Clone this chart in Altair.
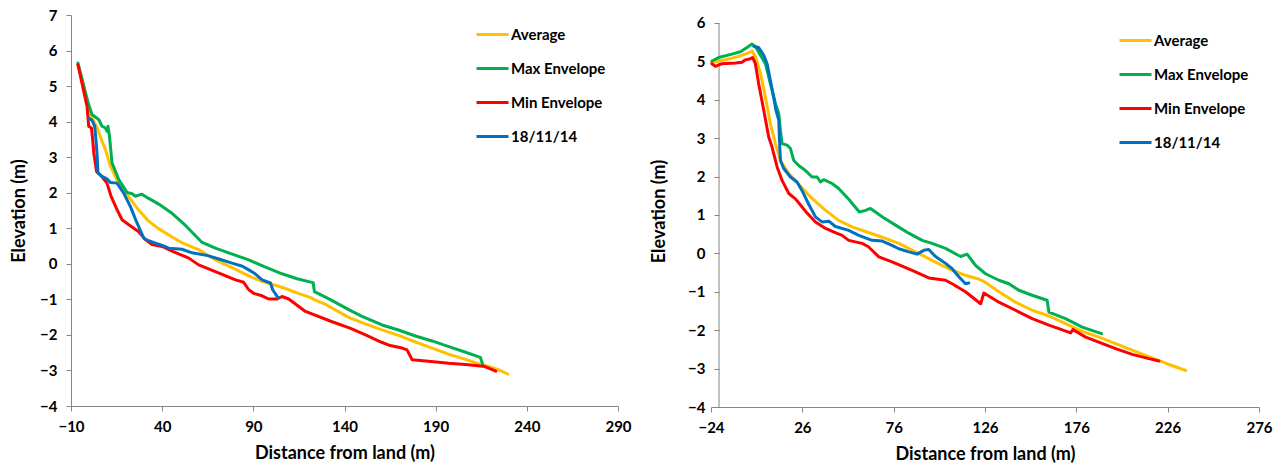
import altair as alt
import pandas as pd

SERIES = ["Average", "Max Envelope", "Min Envelope", "18/11/14"]
COLORS = ["#FFC000", "#00B050", "#FF0000", "#0070C0"]

# ---------------- Left profile ----------------
L_X_TICKS = [-10, 40, 90, 140, 190, 240, 290]
L_Y_TICKS = [-4, -3, -2, -1, 0, 1, 2, 3, 4, 5, 6, 7]

L_AVG_X = [-6.2, -3.0, -1.0, 0.5, 4.0, 7.0, 9.0, 11.6, 16.0, 21.5, 27.0, 32.6, 38.0, 45.0, 51.0, 60.0, 69.0,
           78.0, 87.5, 95.0, 105.7, 115.0, 121.5, 123.0, 130.0, 142.0, 151.0, 160.5, 170.0, 179.0, 188.0,
           197.0, 206.0, 213.0, 220.0, 225.0, 229.5]
L_AVG_Y = [5.6, 5.0, 4.5, 4.2, 3.87, 3.45, 3.2, 2.75, 2.28, 1.9, 1.52, 1.2, 0.99, 0.77, 0.59, 0.4, 0.12,
           -0.1, -0.34, -0.5, -0.66, -0.84, -0.95, -1.0, -1.15, -1.5, -1.68, -1.86, -2.02, -2.2, -2.37,
           -2.54, -2.68, -2.8, -2.9, -2.99, -3.1]

L_MAX_X = [-6.2, -3.0, -0.3, 1.5, 5.2, 7.0, 8.9, 9.8, 10.3, 11.1, 12.5, 16.2, 20.7, 23.5, 25.3, 28.9, 32.6,
           38.1, 45.4, 52.8, 61.9, 69.2, 78.0, 87.5, 96.0, 105.7, 114.0, 120.4, 122.8, 123.5, 132.0, 142.3,
           149.6, 160.6, 170.0, 178.9, 188.0, 197.2, 206.0, 214.5, 215.9]
L_MAX_Y = [5.65, 5.0, 4.48, 4.2, 4.06, 3.87, 3.82, 3.73, 3.87, 3.59, 2.84, 2.37, 2.01, 1.97, 1.9, 1.96, 1.84,
           1.68, 1.42, 1.08, 0.6, 0.44, 0.28, 0.11, -0.08, -0.28, -0.42, -0.5, -0.53, -0.78, -1.0, -1.29,
           -1.48, -1.72, -1.87, -2.03, -2.17, -2.33, -2.48, -2.63, -2.85]

L_MIN_X = [-6.2, -3.0, -1.2, -0.3, 1.2, 1.9, 2.5, 4.0, 7.0, 9.7, 12.0, 15.0, 18.0, 21.7, 27.0, 30.8, 34.4,
           40.0, 45.4, 54.6, 60.0, 69.2, 80.2, 84.7, 87.5, 90.2, 94.8, 98.4, 103.0, 105.7, 109.4, 118.6,
           133.2, 143.0, 151.5, 160.0, 165.0, 171.6, 174.3, 177.1, 186.0, 197.2, 208.0, 217.0, 223.0]
L_MIN_Y = [5.6, 4.85, 4.43, 3.87, 3.82, 3.49, 3.12, 2.6, 2.45, 2.27, 1.9, 1.55, 1.24, 1.1, 0.91, 0.68, 0.54,
           0.49, 0.36, 0.16, -0.03, -0.22, -0.45, -0.52, -0.73, -0.83, -0.9, -0.99, -0.99, -0.92, -0.99, -1.34,
           -1.63, -1.81, -2.0, -2.2, -2.3, -2.37, -2.42, -2.7, -2.74, -2.8, -2.84, -2.89, -3.02]

L_OBS_X = [-0.3, 1.5, 3.0, 3.7, 4.3, 4.8, 7.0, 9.7, 11.6, 15.2, 18.9, 22.6, 26.2, 29.9, 32.6, 36.3, 40.0,
           43.6, 50.9, 56.4, 65.0, 72.0, 78.3, 84.0, 87.5, 91.0, 94.8, 99.4, 100.6, 103.5]
L_OBS_Y = [4.1, 4.04, 3.87, 3.49, 3.07, 2.55, 2.46, 2.39, 2.29, 2.27, 1.99, 1.61, 1.15, 0.72, 0.65, 0.58, 0.52,
           0.44, 0.41, 0.31, 0.23, 0.12, 0.02, -0.07, -0.17, -0.28, -0.45, -0.54, -0.73, -0.95]

# ---------------- Right profile ----------------
R_X_TICKS = [-24, 26, 76, 126, 176, 226, 276]
R_Y_TICKS = [-4, -3, -2, -1, 0, 1, 2, 3, 4, 5, 6]
R_Y_AXIS_AT = -19.6          # where the vertical axis crosses the horizontal one
R_Y_TOP = 6.208              # plot area reaches a little above the top tick

R_AVG_X = [-23.5, -16.1, -8.8, -3.4, -1.5, 0.3, 3.1, 5.8, 8.5, 11.3, 14.0, 18.6, 24.0, 31.3, 38.7, 45.9, 53.2,
           60.6, 69.7, 78.8, 88.0, 97.0, 106.2, 115.3, 122.0, 125.0, 133.6, 142.7, 151.8, 161.0, 170.1, 179.2,
           188.4, 197.5, 206.6, 215.7, 224.9, 235.9]
R_AVG_Y = [4.98, 5.04, 5.13, 5.22, 5.27, 5.13, 4.68, 4.07, 3.38, 2.86, 2.42, 2.08, 1.80, 1.43, 1.12, 0.86, 0.69,
           0.57, 0.42, 0.26, 0.04, -0.18, -0.40, -0.57, -0.66, -0.72, -1.0, -1.27, -1.48, -1.63, -1.83, -2.03,
           -2.18, -2.35, -2.52, -2.69, -2.86, -3.05]

R_MAX_X = [-23.5, -19.8, -12.5, -7.9, -4.3, -1.5, 0.3, 2.1, 5.8, 8.5, 11.3, 13.1, 14.0, 14.9, 17.6, 19.5, 21.3,
           24.0, 27.7, 31.3, 34.1, 35.9, 37.7, 42.3, 45.9, 51.4, 57.2, 60.6, 63.3, 70.5, 77.9, 84.5, 91.6, 97.0,
           104.4, 112.6, 116.2, 120.8, 126.3, 133.6, 139.1, 144.5, 151.8, 160.0, 161.0, 170.1, 179.2, 189.8]
R_MAX_Y = [5.01, 5.10, 5.19, 5.25, 5.36, 5.45, 5.39, 5.24, 4.94, 4.42, 3.90, 3.64, 3.21, 2.86, 2.82, 2.73, 2.42,
           2.29, 2.16, 1.99, 1.99, 1.86, 1.92, 1.82, 1.69, 1.41, 1.08, 1.12, 1.17, 0.93, 0.71, 0.52, 0.34, 0.26,
           0.13, -0.08, -0.02, -0.31, -0.53, -0.70, -0.79, -0.96, -1.09, -1.22, -1.53, -1.70, -1.92, -2.09]

R_MIN_X = [-23.5, -21.6, -18.0, -10.6, -7.0, -5.2, -2.4, -1.2, 0.3, 2.1, 4.9, 7.6, 9.4, 12.2, 14.9, 18.6, 22.2,
           24.0, 27.7, 33.2, 38.7, 45.0, 47.8, 51.4, 58.7, 62.0, 67.9, 75.1, 86.1, 95.2, 104.4, 108.0, 115.3,
           123.6, 125.4, 133.6, 142.7, 151.8, 161.0, 172.9, 174.1, 181.1, 197.5, 206.6, 215.7, 221.2]
R_MIN_Y = [4.94, 4.87, 4.94, 4.96, 4.98, 5.04, 5.07, 5.10, 4.94, 4.42, 3.72, 3.03, 2.77, 2.25, 1.90, 1.56, 1.42,
           1.32, 1.10, 0.82, 0.65, 0.52, 0.47, 0.34, 0.26, 0.18, -0.09, -0.22, -0.44, -0.64, -0.70, -0.79, -1.0,
           -1.31, -1.03, -1.27, -1.48, -1.70, -1.87, -2.07, -1.98, -2.18, -2.48, -2.63, -2.74, -2.80]

R_OBS_X = [-0.6, 2.1, 4.9, 6.7, 8.5, 10.3, 11.6, 13.1, 13.5, 14.0, 15.8, 19.5, 23.1, 25.8, 29.5, 33.2, 36.8,
           40.5, 44.1, 51.4, 56.9, 64.2, 69.7, 75.1, 78.8, 84.3, 88.8, 92.5, 95.2, 98.9, 104.4, 108.0, 111.7,
           115.3, 117.1]
R_OBS_Y = [5.39, 5.36, 5.16, 4.94, 4.51, 4.07, 3.72, 3.47, 2.95, 2.42, 2.21, 1.99, 1.86, 1.64, 1.28, 0.95, 0.82,
           0.84, 0.70, 0.60, 0.47, 0.34, 0.32, 0.21, 0.12, 0.04, -0.02, 0.08, 0.10, -0.08, -0.26, -0.40, -0.61,
           -0.79, -0.77]

FONT = "Lato"
AXIS_GREY = "#868686"


def long_frame(pairs):
    rows = []
    for name, (xs, ys) in zip(SERIES, pairs):
        for i, (x, y) in enumerate(zip(xs, ys)):
            rows.append({"series": name, "x": x, "y": y, "i": i})
    return pd.DataFrame(rows)


def encodings(xdom, xticks, ydom, yticks, y_offset=0, y_title_pad=11, y_domain_line=True):
    x = alt.X("x:Q", scale=alt.Scale(domain=xdom, nice=False, zero=False),
              axis=alt.Axis(values=xticks, title="Distance from land (m)", labelPadding=8,
                            titlePadding=10, labelFlush=False, labelOverlap=False))
    y = alt.Y("y:Q", scale=alt.Scale(domain=ydom, nice=False, zero=False),
              axis=alt.Axis(values=yticks, title="Elevation (m)", offset=y_offset, labelPadding=9,
                            titlePadding=y_title_pad, labelFlush=False, labelOverlap=False,
                            domain=y_domain_line))
    return x, y


def line_layers(df, x, y, lx, ly):
    color = alt.Color(
        "series:N",
        scale=alt.Scale(domain=SERIES, range=COLORS),
        legend=alt.Legend(
            title=None, orient="none", legendX=lx, legendY=ly, direction="vertical",
            symbolType="stroke", symbolSize=1024, symbolStrokeWidth=3,
            labelFont=FONT, labelFontSize=15, labelFontWeight="bold", labelColor="black",
            rowPadding=8, labelOffset=1, padding=0,
        ),
    )
    layers = []
    for s in SERIES:
        layers.append(
            alt.Chart(df).transform_filter(alt.datum.series == s)
            .mark_line(strokeWidth=3, strokeJoin="round", strokeCap="round")
            .encode(x=x, y=y, color=color, order="i:Q")
        )
    return layers


# left panel
lx, ly = encodings([-10, 290], L_X_TICKS, [-4, 7], L_Y_TICKS)
left_df = long_frame([(L_AVG_X, L_AVG_Y), (L_MAX_X, L_MAX_Y), (L_MIN_X, L_MIN_Y), (L_OBS_X, L_OBS_Y)])
left = alt.layer(*line_layers(left_df, lx, ly, 404, 2)).properties(width=547, height=391)

# right panel
rx, ry = encodings([-24, 276], R_X_TICKS, [-4, R_Y_TOP], R_Y_TICKS, y_offset=-8, y_title_pad=19,
                   y_domain_line=False)
right_df = long_frame([(R_AVG_X, R_AVG_Y), (R_MAX_X, R_MAX_Y), (R_MIN_X, R_MIN_Y), (R_OBS_X, R_OBS_Y)])
axis_df = pd.DataFrame({"x": [R_Y_AXIS_AT], "y": [min(R_Y_TICKS)], "y2": [max(R_Y_TICKS)]})
r_axis_line = alt.Chart(axis_df).mark_rule(color=AXIS_GREY, strokeWidth=1).encode(x=rx, y=ry, y2="y2:Q")
right = alt.layer(r_axis_line, *line_layers(right_df, rx, ry, 407, 8)).properties(width=548, height=392)

chart = (
    alt.hconcat(left, right, spacing=18)
    .resolve_scale(color="independent")
    .resolve_legend(color="independent")
    .configure(padding={"left": 10, "top": 8, "right": 0, "bottom": 0}, background="white")
    .configure_view(stroke=None)
    .configure_axis(
        grid=False, domainColor=AXIS_GREY, tickColor=AXIS_GREY, domainWidth=1, tickWidth=1, tickSize=5,
        labelFont=FONT, labelFontSize=15, labelFontWeight="bold", labelColor="black",
        titleFont=FONT, titleFontSize=18, titleFontWeight="bold", titleColor="black",
    )
)

chart.save("out.html", embed_options={"renderer": "svg", "actions": False})
